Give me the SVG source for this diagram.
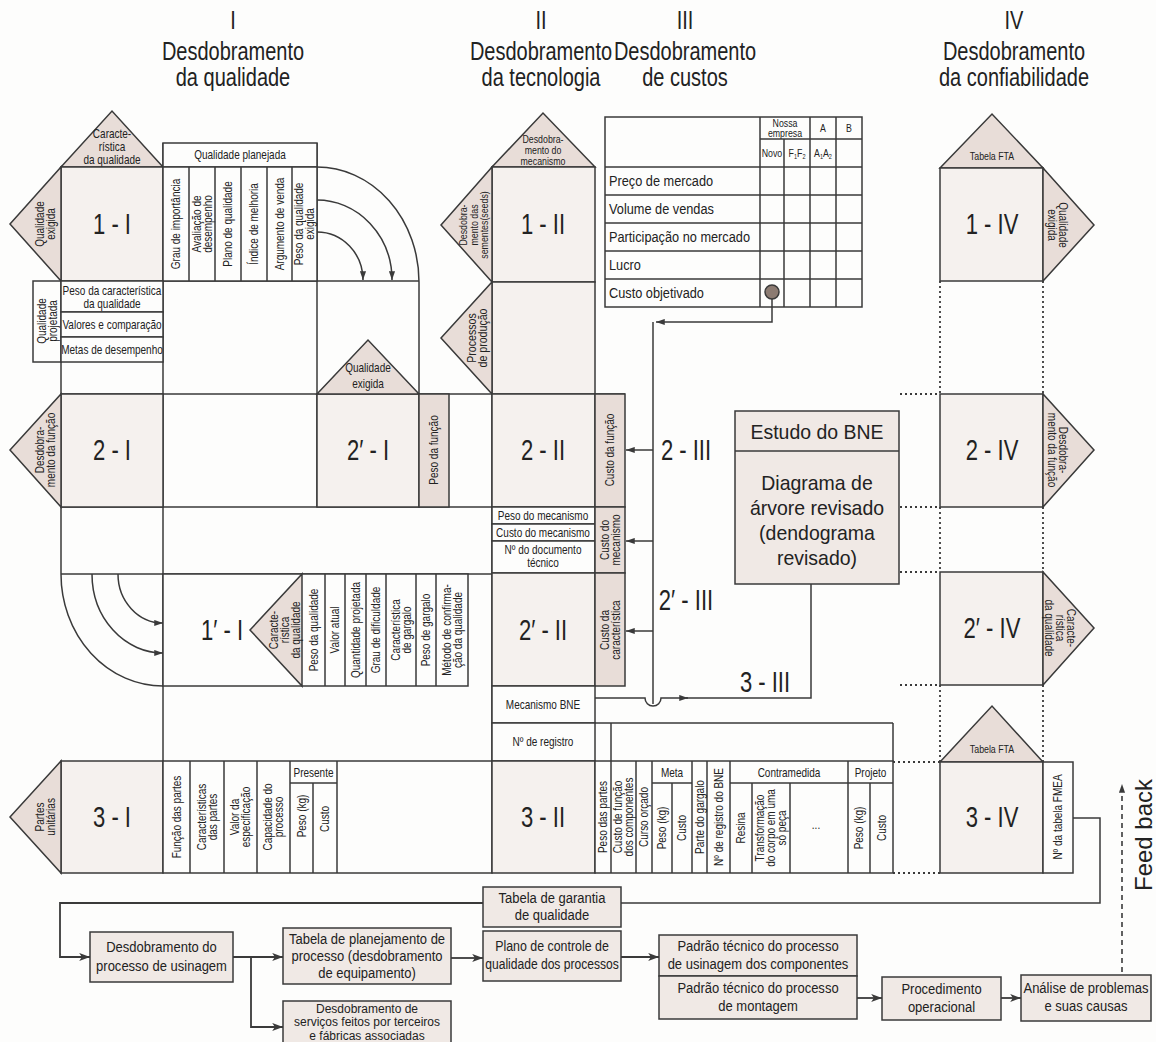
<svg xmlns="http://www.w3.org/2000/svg" width="1156" height="1042" viewBox="0 0 1156 1042">
<defs>
<style>
text{font-family:'Liberation Sans',Arial,sans-serif;fill:#222;text-anchor:middle}
.hd{font-size:25px}
.nd{font-size:29px}
.s{font-size:12.5px}
.xs{font-size:11px}
.m{font-size:14.5px}
.bn{font-size:20.5px}
.bt{font-size:15.5px}
.fb{font-size:24px}
.ln{stroke:#3a3a3a;stroke-width:1.5;fill:none}
.bx{fill:#f5f1ee;stroke:#3a3a3a;stroke-width:1.5}
.wt{fill:#fdfdfc;stroke:#3a3a3a;stroke-width:1.5}
.sh{fill:#e8ddd8;stroke:#3a3a3a;stroke-width:1.5}
.fl{fill:#f0e9e5;stroke:#3a3a3a;stroke-width:1.5}
.dt{stroke:#3a3a3a;stroke-width:1.8;stroke-dasharray:2 3;fill:none}
.ar{stroke:#3a3a3a;stroke-width:1.5;fill:none;marker-end:url(#ah)}
.ab{stroke:#3a3a3a;stroke-width:1.8;fill:none;marker-end:url(#ahb)}
</style>
<marker id="ah" viewBox="0 0 10 8" refX="10" refY="4" markerWidth="9" markerHeight="7" orient="auto" markerUnits="userSpaceOnUse"><path d="M0,0.5 L10,4 L0,7.5 z" fill="#3a3a3a"/></marker>
<marker id="ahb" viewBox="0 0 12 10" refX="12" refY="5" markerWidth="12" markerHeight="9" orient="auto" markerUnits="userSpaceOnUse"><path d="M0,0.5 L12,5 L0,9.5 L3,5 z" fill="#3a3a3a"/></marker>
</defs>
<rect width="1156" height="1042" fill="#fdfdfc"/>

<!-- column headings (condensed by horizontal scaling) -->
<g id="headings">
<text class="hd" transform="translate(233,29) scale(.8,1)">I</text>
<text class="hd" transform="translate(233,60) scale(.8,1)">Desdobramento</text>
<text class="hd" transform="translate(233,86) scale(.8,1)">da qualidade</text>
<text class="hd" transform="translate(541,29) scale(.8,1)">II</text>
<text class="hd" transform="translate(541,60) scale(.8,1)">Desdobramento</text>
<text class="hd" transform="translate(541,86) scale(.8,1)">da tecnologia</text>
<text class="hd" transform="translate(685,29) scale(.8,1)">III</text>
<text class="hd" transform="translate(685,60) scale(.8,1)">Desdobramento</text>
<text class="hd" transform="translate(685,86) scale(.8,1)">de custos</text>
<text class="hd" transform="translate(1014,29) scale(.8,1)">IV</text>
<text class="hd" transform="translate(1014,60) scale(.8,1)">Desdobramento</text>
<text class="hd" transform="translate(1014,86) scale(.8,1)">da confiabilidade</text>
</g>

<!-- frame lines of the quality deployment grid -->
<g id="grid" class="ln">
<path d="M163,143 V873"/>
<path d="M61,281 V574"/>
<path d="M317,143 V507"/>
<path d="M492,167 V873"/>
<path d="M61,394 H625 M61,507 H625"/>
<path d="M61,574 H492"/>
<path d="M61,281 H419"/>
<path d="M595,723 H893 M611,723 V761 M893,723 V761"/>
</g>

<!-- 1-I -->
<g id="n1-I">
<polygon class="sh" points="61,167 163,167 112,111"/>
<text class="s" transform="translate(112,138) scale(.8,1)">Caracte-</text>
<text class="s" transform="translate(112,151) scale(.8,1)">rística</text>
<text class="s" transform="translate(112,164) scale(.8,1)">da qualidade</text>
<rect class="bx" x="61" y="167" width="102" height="114"/>
<polygon class="sh" points="61,167 61,281 10,224"/>
<text class="s" transform="translate(45,224) rotate(-90) scale(.8,1)"><tspan x="0" y="-1.1">Qualidade</tspan><tspan x="0" y="9.9">exigida</tspan></text>
<text class="nd" transform="translate(112,234) scale(.76,1)">1 - I</text>
</g>

<!-- planned quality table -->
<g id="qualidade-planejada">
<rect class="wt" x="163" y="143" width="154" height="24"/>
<text class="s" transform="translate(240,159) scale(.8,1)">Qualidade planejada</text>
<rect class="wt" x="163" y="167" width="154" height="114"/>
<path class="ln" d="M189,167 V281 M215,167 V281 M241,167 V281 M267,167 V281 M292,167 V281"/>
<text class="s" transform="translate(176,224) rotate(-90) scale(.8,1)"><tspan x="0" y="4.4">Grau de importância</tspan></text>
<text class="s" transform="translate(202,224) rotate(-90) scale(.8,1)"><tspan x="0" y="-1.1">Avaliação de</tspan><tspan x="0" y="9.9">desempenho</tspan></text>
<text class="s" transform="translate(228,224) rotate(-90) scale(.8,1)"><tspan x="0" y="4.4">Plano de qualidade</tspan></text>
<text class="s" transform="translate(254,224) rotate(-90) scale(.8,1)"><tspan x="0" y="4.4">Índice de melhoria</tspan></text>
<text class="s" transform="translate(279.5,224) rotate(-90) scale(.8,1)"><tspan x="0" y="4.4">Argumento de venda</tspan></text>
<text class="s" transform="translate(304.5,224) rotate(-90) scale(.8,1)"><tspan x="0" y="-1.1">Peso da qualidade</tspan><tspan x="0" y="9.9">exigida</tspan></text>
</g>

<!-- designed quality -->
<g id="qualidade-projetada">
<rect class="wt" x="33" y="281" width="28" height="81"/>
<text class="s" transform="translate(47,321) rotate(-90) scale(.8,1)"><tspan x="0" y="-1.1">Qualidade</tspan><tspan x="0" y="9.9">projetada</tspan></text>
<rect class="wt" x="61" y="281" width="102" height="31"/>
<text class="s" transform="translate(112,295) scale(.8,1)">Peso da característica</text>
<text class="s" transform="translate(112,308) scale(.8,1)">da qualidade</text>
<rect class="wt" x="61" y="312" width="102" height="25"/>
<text class="s" transform="translate(112,329) scale(.8,1)">Valores e comparação</text>
<rect class="wt" x="61" y="337" width="102" height="25"/>
<text class="s" transform="translate(112,354) scale(.8,1)">Metas de desempenho</text>
</g>

<!-- 2-I -->
<g id="n2-I">
<rect class="bx" x="61" y="394" width="102" height="113"/>
<polygon class="sh" points="61,394 61,507 10,450"/>
<text class="s" transform="translate(45,450) rotate(-90) scale(.8,1)"><tspan x="0" y="-1.1">Desdobra-</tspan><tspan x="0" y="9.9">mento da função</tspan></text>
<text class="nd" transform="translate(112,460) scale(.76,1)">2 - I</text>
</g>

<!-- 2'-I -->
<g id="n2p-I">
<rect class="bx" x="317" y="394" width="102" height="113"/>
<polygon class="sh" points="317,394 419,394 368,340"/>
<text class="s" transform="translate(368,372) scale(.8,1)">Qualidade</text>
<text class="s" transform="translate(368,388) scale(.8,1)">exigida</text>
<rect class="sh" x="419" y="394" width="30" height="113"/>
<text class="s" transform="translate(434,450) rotate(-90) scale(.8,1)"><tspan x="0" y="4.4">Peso da função</tspan></text>
<text class="nd" transform="translate(368,460) scale(.76,1)">2′ - I</text>
</g>

<!-- 1'-I -->
<g id="n1p-I">
<rect class="wt" x="163" y="574" width="305" height="112"/>
<polygon class="sh" points="302,574 302,686 250,630"/>
<text class="s" transform="translate(285,630) rotate(-90) scale(.8,1)"><tspan x="0" y="-6.6">Caracte-</tspan><tspan x="0" y="4.4">rística</tspan><tspan x="0" y="15.4">da qualidade</tspan></text>
<path class="ln" d="M325,574 V686 M345,574 V686 M366,574 V686 M386,574 V686 M416,574 V686 M436,574 V686"/>
<text class="s" transform="translate(313.5,630) rotate(-90) scale(.8,1)"><tspan x="0" y="4.4">Peso da qualidade</tspan></text>
<text class="s" transform="translate(335,630) rotate(-90) scale(.8,1)"><tspan x="0" y="4.4">Valor atual</tspan></text>
<text class="s" transform="translate(355.5,630) rotate(-90) scale(.8,1)"><tspan x="0" y="4.4">Quantidade projetada</tspan></text>
<text class="s" transform="translate(376,630) rotate(-90) scale(.8,1)"><tspan x="0" y="4.4">Grau de dificuldade</tspan></text>
<text class="s" transform="translate(401,630) rotate(-90) scale(.8,1)"><tspan x="0" y="-1.1">Característica</tspan><tspan x="0" y="9.9">de gargalo</tspan></text>
<text class="s" transform="translate(426,630) rotate(-90) scale(.8,1)"><tspan x="0" y="4.4">Peso de gargalo</tspan></text>
<text class="s" transform="translate(452,630) rotate(-90) scale(.8,1)"><tspan x="0" y="-1.1">Método de confirma-</tspan><tspan x="0" y="9.9">ção da qualidade</tspan></text>
<text class="nd" transform="translate(222,640) scale(.76,1)">1′ - I</text>
</g>

<!-- 3-I -->
<g id="n3-I">
<rect class="bx" x="61" y="761" width="102" height="112"/>
<polygon class="sh" points="61,761 61,873 10,817"/>
<text class="s" transform="translate(45,817) rotate(-90) scale(.8,1)"><tspan x="0" y="-1.1">Partes</tspan><tspan x="0" y="9.9">unitárias</tspan></text>
<text class="nd" transform="translate(112,827) scale(.76,1)">3 - I</text>
<rect class="wt" x="163" y="761" width="329" height="112"/>
<path class="ln" d="M190,761 V873 M224,761 V873 M257,761 V873 M290,761 V873 M337,761 V873 M290,783 H337 M313,783 V873"/>
<text class="s" transform="translate(313.5,777) scale(.8,1)">Presente</text>
<text class="s" transform="translate(176.5,817) rotate(-90) scale(.8,1)"><tspan x="0" y="4.4">Função das partes</tspan></text>
<text class="s" transform="translate(207,817) rotate(-90) scale(.8,1)"><tspan x="0" y="-1.1">Características</tspan><tspan x="0" y="9.9">das partes</tspan></text>
<text class="s" transform="translate(240.5,817) rotate(-90) scale(.8,1)"><tspan x="0" y="-1.1">Valor da</tspan><tspan x="0" y="9.9">especificação</tspan></text>
<text class="s" transform="translate(273.5,817) rotate(-90) scale(.8,1)"><tspan x="0" y="-1.1">Capacidade do</tspan><tspan x="0" y="9.9">processo</tspan></text>
<text class="s" transform="translate(301.5,816) rotate(-90) scale(.8,1)"><tspan x="0" y="4.4">Peso (kg)</tspan></text>
<text class="s" transform="translate(325,819) rotate(-90) scale(.8,1)"><tspan x="0" y="4.4">Custo</tspan></text>
</g>

<!-- 1-II -->
<g id="n1-II">
<polygon class="sh" points="492,167 595,167 543,113"/>
<text class="xs" transform="translate(543,143) scale(.8,1)">Desdobra-</text>
<text class="xs" transform="translate(543,154) scale(.8,1)">mento do</text>
<text class="xs" transform="translate(543,165) scale(.8,1)">mecanismo</text>
<rect class="bx" x="492" y="167" width="103" height="115"/>
<polygon class="sh" points="492,167 492,282 441,225"/>
<text class="xs" transform="translate(474,225) rotate(-90) scale(.8,1)"><tspan x="0" y="-6.6">Desdobra-</tspan><tspan x="0" y="3.9">mento das</tspan><tspan x="0" y="14.4">sementes(seeds)</tspan></text>
<text class="nd" transform="translate(543,234) scale(.76,1)">1 - II</text>
<rect class="bx" x="492" y="282" width="103" height="112"/>
<polygon class="sh" points="492,282 492,394 441,338"/>
<text class="s" transform="translate(477,338) rotate(-90) scale(.85,1)"><tspan x="0" y="-1.1">Processos</tspan><tspan x="0" y="9.9">de produção</tspan></text>
</g>

<!-- 2-II -->
<g id="n2-II">
<rect class="bx" x="492" y="394" width="103" height="113"/>
<rect class="sh" x="595" y="394" width="30" height="113"/>
<text class="s" transform="translate(610,450) rotate(-90) scale(.8,1)"><tspan x="0" y="4.4">Custo da função</tspan></text>
<text class="nd" transform="translate(543,460) scale(.76,1)">2 - II</text>
</g>

<!-- mechanism rows -->
<g id="mecanismo">
<rect class="wt" x="492" y="507" width="103" height="17"/>
<text class="s" transform="translate(543,520) scale(.8,1)">Peso do mecanismo</text>
<rect class="wt" x="492" y="524" width="103" height="17"/>
<text class="s" transform="translate(543,537) scale(.8,1)">Custo do mecanismo</text>
<rect class="wt" x="492" y="541" width="103" height="32"/>
<text class="s" transform="translate(543,554) scale(.8,1)">Nº do documento</text>
<text class="s" transform="translate(543,567) scale(.8,1)">técnico</text>
<rect class="sh" x="595" y="507" width="30" height="66"/>
<text class="s" transform="translate(610,540) rotate(-90) scale(.8,1)"><tspan x="0" y="-1.1">Custo do</tspan><tspan x="0" y="9.9">mecanismo</tspan></text>
</g>

<!-- 2'-II -->
<g id="n2p-II">
<rect class="bx" x="492" y="573" width="103" height="113"/>
<rect class="sh" x="595" y="573" width="30" height="113"/>
<text class="s" transform="translate(610,630) rotate(-90) scale(.8,1)"><tspan x="0" y="-1.1">Custo da</tspan><tspan x="0" y="9.9">característica</tspan></text>
<text class="nd" transform="translate(543,640) scale(.76,1)">2′ - II</text>
</g>

<!-- BNE mechanism rows -->
<g id="mecanismo-bne">
<rect class="wt" x="492" y="686" width="103" height="37"/>
<text class="s" transform="translate(543,709) scale(.8,1)">Mecanismo BNE</text>
<rect class="wt" x="492" y="723" width="103" height="38"/>
<text class="s" transform="translate(543,746) scale(.8,1)">Nº de registro</text>
</g>

<!-- 3-II -->
<g id="n3-II">
<rect class="bx" x="492" y="761" width="103" height="112"/>
<text class="nd" transform="translate(543,827) scale(.76,1)">3 - II</text>
<rect class="wt" x="595" y="761" width="298" height="112"/>
<path class="ln" d="M611,761 V873 M636,761 V873 M652,761 V873 M692,761 V873 M707,761 V873 M730,761 V873 M848,761 V873 M652,783 H692 M672,783 V873 M730,783 H893 M752,783 V873 M790,783 V873 M870,783 V873"/>
<text class="s" transform="translate(672,777) scale(.8,1)">Meta</text>
<text class="s" transform="translate(789,777) scale(.8,1)">Contramedida</text>
<text class="s" transform="translate(870.5,777) scale(.8,1)">Projeto</text>
<text class="s" transform="translate(603,817) rotate(-90) scale(.8,1)"><tspan x="0" y="4.4">Peso das partes</tspan></text>
<text class="s" transform="translate(623.5,817) rotate(-90) scale(.8,1)"><tspan x="0" y="-1.1">Custo de função</tspan><tspan x="0" y="9.9">dos componentes</tspan></text>
<text class="s" transform="translate(644,817) rotate(-90) scale(.8,1)"><tspan x="0" y="4.4">Curso orçado</tspan></text>
<text class="s" transform="translate(662,828) rotate(-90) scale(.8,1)"><tspan x="0" y="4.4">Peso (kg)</tspan></text>
<text class="s" transform="translate(682,828) rotate(-90) scale(.8,1)"><tspan x="0" y="4.4">Custo</tspan></text>
<text class="s" transform="translate(699.5,817) rotate(-90) scale(.8,1)"><tspan x="0" y="4.4">Parte do gargalo</tspan></text>
<text class="s" transform="translate(718.5,817) rotate(-90) scale(.8,1)"><tspan x="0" y="4.4">Nº de registro do BNE</tspan></text>
<text class="s" transform="translate(741,828) rotate(-90) scale(.8,1)"><tspan x="0" y="4.4">Resina</tspan></text>
<text class="s" transform="translate(771,828) rotate(-90) scale(.8,1)"><tspan x="0" y="-6.6">Transformação</tspan><tspan x="0" y="4.4">do corpo em uma</tspan><tspan x="0" y="15.4">só peça</tspan></text>
<text class="s" transform="translate(816,829) scale(.8,1)">...</text>
<text class="s" transform="translate(859,828) rotate(-90) scale(.8,1)"><tspan x="0" y="4.4">Peso (kg)</tspan></text>
<text class="s" transform="translate(881.5,828) rotate(-90) scale(.8,1)"><tspan x="0" y="4.4">Custo</tspan></text>
</g>

<!-- cost deployment table -->
<g id="tabela-custos">
<rect class="wt" x="605" y="117" width="257" height="190"/>
<path class="ln" d="M760,139 H862 M605,167 H862 M605,195 H862 M605,223 H862 M605,251 H862 M605,279 H862 M760,117 V307 M784,139 V307 M810,117 V307 M836,117 V307"/>
<text class="xs" transform="translate(785,127) scale(.8,1)">Nossa</text>
<text class="xs" transform="translate(785,137) scale(.8,1)">empresa</text>
<text class="xs" transform="translate(823,132) scale(.8,1)">A</text>
<text class="xs" transform="translate(849,132) scale(.8,1)">B</text>
<text class="xs" transform="translate(772,157) scale(.8,1)">Novo</text>
<text class="xs" transform="translate(797,157) scale(.8,1)">F<tspan font-size="7" dy="2">1</tspan><tspan dy="-2">F</tspan><tspan font-size="7" dy="2">2</tspan></text>
<text class="xs" transform="translate(823,157) scale(.8,1)">A<tspan font-size="7" dy="2">1</tspan><tspan dy="-2">A</tspan><tspan font-size="7" dy="2">2</tspan></text>
<text class="m" transform="translate(609,186) scale(.88,1)" style="text-anchor:start">Preço de mercado</text>
<text class="m" transform="translate(609,214) scale(.88,1)" style="text-anchor:start">Volume de vendas</text>
<text class="m" transform="translate(609,242) scale(.88,1)" style="text-anchor:start">Participação no mercado</text>
<text class="m" transform="translate(609,270) scale(.88,1)" style="text-anchor:start">Lucro</text>
<text class="m" transform="translate(609,298) scale(.88,1)" style="text-anchor:start">Custo objetivado</text>
<circle cx="772" cy="292" r="7" fill="#8c7b72" stroke="#3a3a3a" stroke-width="1.5"/>
</g>

<!-- BNE study -->
<g id="estudo-bne">
<rect class="fl" x="735" y="411" width="164" height="173"/>
<path class="ln" d="M735,451 H899"/>
<text class="bn" transform="translate(817,439) scale(.95,1)">Estudo do BNE</text>
<text class="bn" transform="translate(817,490) scale(.95,1)">Diagrama de</text>
<text class="bn" transform="translate(817,515) scale(.95,1)">árvore revisado</text>
<text class="bn" transform="translate(817,540) scale(.95,1)">(dendograma</text>
<text class="bn" transform="translate(817,565) scale(.95,1)">revisado)</text>
</g>

<!-- cost labels -->
<g id="custos-III">
<text class="nd" transform="translate(686,460) scale(.76,1)">2 - III</text>
<text class="nd" transform="translate(686,610) scale(.76,1)">2′ - III</text>
<text class="nd" transform="translate(765,692) scale(.76,1)">3 - III</text>
</g>

<!-- reliability deployment -->
<g id="n1-IV">
<polygon class="sh" points="940,168 1043,168 992,114"/>
<text class="xs" transform="translate(992,160) scale(.8,1)">Tabela FTA</text>
<rect class="bx" x="940" y="168" width="103" height="113"/>
<polygon class="sh" points="1043,168 1043,281 1094,225"/>
<text class="s" transform="translate(1058,225) rotate(90) scale(.8,1)"><tspan x="0" y="-1.1">Qualidade</tspan><tspan x="0" y="9.9">exigida</tspan></text>
<text class="nd" transform="translate(992,234) scale(.76,1)">1 - IV</text>
</g>
<g id="n2-IV">
<rect class="bx" x="940" y="394" width="103" height="113"/>
<polygon class="sh" points="1043,394 1043,507 1094,450"/>
<text class="s" transform="translate(1058,450) rotate(90) scale(.8,1)"><tspan x="0" y="-1.1">Desdobra-</tspan><tspan x="0" y="9.9">mento da função</tspan></text>
<text class="nd" transform="translate(992,460) scale(.76,1)">2 - IV</text>
</g>
<g id="n2p-IV">
<rect class="bx" x="940" y="572" width="103" height="113"/>
<polygon class="sh" points="1043,572 1043,685 1094,628"/>
<text class="s" transform="translate(1060,628) rotate(90) scale(.8,1)"><tspan x="0" y="-6.6">Caracte-</tspan><tspan x="0" y="4.4">rística</tspan><tspan x="0" y="15.4">da qualidade</tspan></text>
<text class="nd" transform="translate(992,638) scale(.76,1)">2′ - IV</text>
</g>
<g id="n3-IV">
<polygon class="sh" points="940,762 1043,762 992,706"/>
<text class="xs" transform="translate(992,753) scale(.8,1)">Tabela FTA</text>
<rect class="bx" x="940" y="762" width="103" height="111"/>
<rect class="wt" x="1043" y="762" width="30" height="111"/>
<text class="s" transform="translate(1058,817) rotate(-90) scale(.8,1)"><tspan x="0" y="4.4">Nº da tabela FMEA</tspan></text>
<text class="nd" transform="translate(992,827) scale(.76,1)">3 - IV</text>
</g>
<g id="guias-IV" class="dt">
<path d="M940,281 V394 M1043,281 V394 M940,507 V572 M1043,507 V572 M940,685 V762 M1043,685 V762"/>
<path d="M900,394 H940 M900,507 H940 M900,572 H940 M900,685 H940 M893,762 H940 M893,873 H940"/>
</g>

<!-- process planning boxes -->
<g id="b-usinagem"><rect class="fl" x="90" y="932" width="143" height="50"/><text class="bt" transform="translate(161.5,952) scale(.84,1)">Desdobramento do</text><text class="bt" transform="translate(161.5,971) scale(.84,1)">processo de usinagem</text></g>
<g id="b-planejamento"><rect class="fl" x="283" y="928" width="168" height="56"/><text class="bt" transform="translate(367,944) scale(.84,1)">Tabela de planejamento de</text><text class="bt" transform="translate(367,961) scale(.84,1)">processo (desdobramento</text><text class="bt" transform="translate(367,978) scale(.84,1)">de equipamento)</text></g>
<g id="b-terceiros"><rect class="fl" x="283" y="1001" width="168" height="60"/><text style="font-size:12px" transform="translate(367,1012.5)">Desdobramento de</text><text style="font-size:12px" transform="translate(367,1026)">serviços feitos por terceiros</text><text style="font-size:12px" transform="translate(367,1039.5)">e fábricas associadas</text></g>
<g id="b-garantia"><rect class="fl" x="483" y="887" width="138" height="40"/><text class="bt" transform="translate(552,903) scale(.84,1)">Tabela de garantia</text><text class="bt" transform="translate(552,920) scale(.84,1)">de qualidade</text></g>
<g id="b-plano"><rect class="fl" x="483" y="931" width="138" height="50"/><text class="bt" transform="translate(552,951) scale(.8,1)">Plano de controle de</text><text class="bt" transform="translate(552,969) scale(.78,1)">qualidade dos processos</text></g>
<g id="b-padrao-usinagem"><rect class="fl" x="659" y="935" width="198" height="41"/><text class="bt" transform="translate(758,951) scale(.84,1)">Padrão técnico do processo</text><text class="bt" transform="translate(758,969) scale(.84,1)">de usinagem dos componentes</text></g>
<g id="b-padrao-montagem"><rect class="fl" x="659" y="976" width="198" height="43"/><text class="bt" transform="translate(758,993) scale(.84,1)">Padrão técnico do processo</text><text class="bt" transform="translate(758,1011) scale(.84,1)">de montagem</text></g>
<g id="b-procedimento"><rect class="fl" x="882" y="977" width="119" height="43"/><text class="bt" transform="translate(941.5,994) scale(.84,1)">Procedimento</text><text class="bt" transform="translate(941.5,1012) scale(.84,1)">operacional</text></g>
<g id="b-analise"><rect class="fl" x="1021" y="975" width="130" height="46"/><text class="bt" transform="translate(1086,993) scale(.84,1)">Análise de problemas</text><text class="bt" transform="translate(1086,1011) scale(.84,1)">e suas causas</text></g>

<!-- connectors -->
<g id="connectors">
<path class="ln" d="M317,167 A102,115 0 0 1 419,282 V394"/>
<path class="ar" d="M317,200 A75,80 0 0 1 392,280"/>
<path class="ar" d="M317,232 A46,48 0 0 1 363,280"/>
<path class="ln" d="M61,574 A102,112 0 0 0 163,686"/>
<path class="ar" d="M92,574 A71,79 0 0 0 163,653"/>
<path class="ar" d="M118,574 A45,49 0 0 0 163,623"/>
<path class="ar" d="M772,299 V322 H656"/>
<path class="ln" d="M653,322 V704"/>
<path class="ar" d="M653,450 H626"/>
<path class="ar" d="M653,541 H626"/>
<path class="ar" d="M653,631 H626"/>
<path class="ar" d="M595,698 H645 A8,8 0 0 0 661,698 H688"/>
<path class="ln" d="M686,698 H811 V584"/>
<path class="ln" d="M1073,818 H1100 V903 H621"/>
<path class="ab" d="M483,903 H60 V957 H90"/>
<path class="ab" d="M233,957 H283"/>
<path class="ab" d="M251,957 V1027 H283"/>
<path class="ab" d="M451,958 H483"/>
<path class="ab" d="M621,957 H659"/>
<path class="ab" d="M857,998 H882"/>
<path class="ab" d="M1001,998 H1021"/>
<path d="M1122,972 V784" stroke="#3a3a3a" stroke-width="1.6" stroke-dasharray="5 4" fill="none" marker-end="url(#ah)"/>
</g>
<text class="fb" transform="translate(1152,835) rotate(-90)">Feed back</text>
</svg>
